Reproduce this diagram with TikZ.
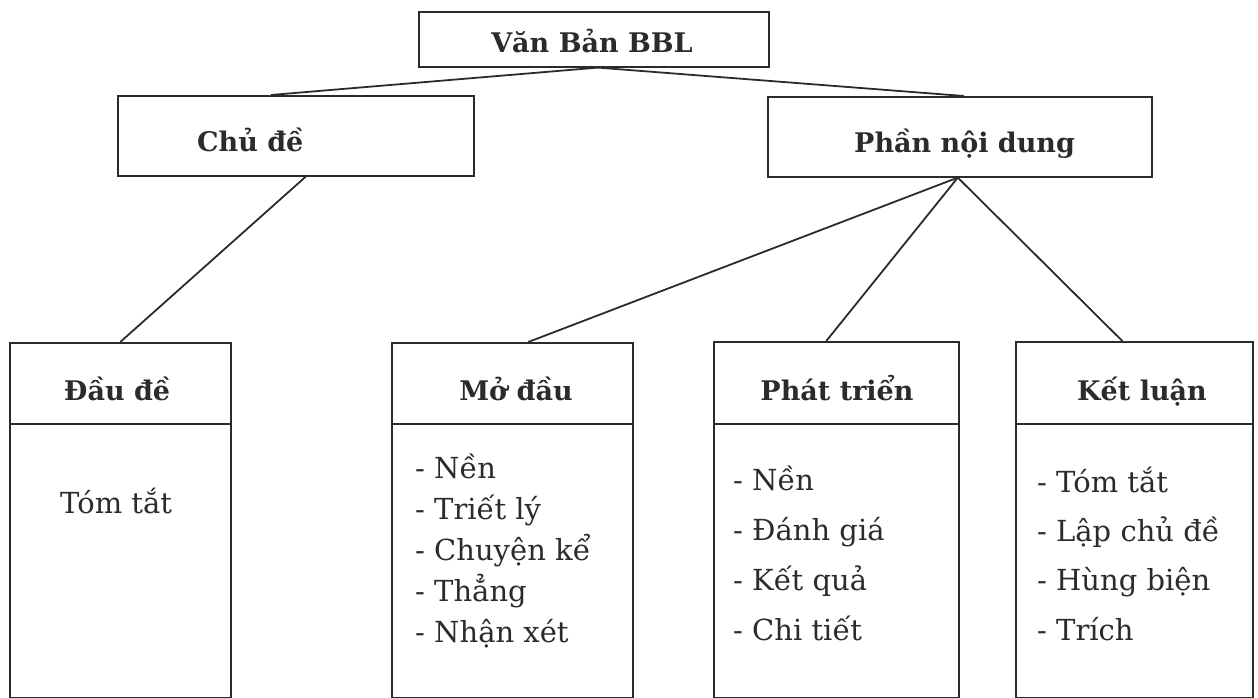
\documentclass[tikz,border=0pt]{standalone}
\usepackage{fontspec}
\setmainfont{DejaVu Serif}
\definecolor{ink}{HTML}{2B2B2B}
\begin{document}
\begin{tikzpicture}[x=1pt,y=-1pt,
  box/.style={draw=ink, line width=1.6pt, rectangle, inner sep=0pt, anchor=north west},
  conn/.style={draw=ink, line width=1.8pt},
  hdr/.style={font=\fontsize{27}{32}\selectfont\bfseries, text=ink, inner sep=0pt, anchor=base},
  hdrl/.style={hdr, anchor=base west},
  item/.style={font=\fontsize{29}{34}\selectfont, text=ink, inner sep=0pt, anchor=base west}]
\useasboundingbox (0,0) rectangle (1258,698);

% top level
\node[box, minimum width=350pt, minimum height=55pt] (top) at (418,11) {};
\node[hdr] (toptxt) at (592,53) {Văn Bản BBL};

% second level
\node[box, minimum width=356pt, minimum height=80pt] (chude) at (117,95) {};
\node[hdrl] (chudetxt) at (197,151) {Chủ đề};
\node[box, minimum width=384pt, minimum height=80pt] (pnd) at (767,96) {};
\node[hdrl] (pndtxt) at (854,153) {Phần nội dung};

% bottom boxes: headers and bodies
\node[box, minimum width=221pt, minimum height=81pt] (ddh) at (9,342) {};
\node[box, minimum width=221pt, minimum height=274pt] (ddb) at (9,423) {};
\node[box, minimum width=241pt, minimum height=81pt] (mdh) at (391,342) {};
\node[box, minimum width=241pt, minimum height=274pt] (mdb) at (391,423) {};
\node[box, minimum width=245pt, minimum height=82pt] (pth) at (713,341) {};
\node[box, minimum width=245pt, minimum height=274pt] (ptb) at (713,423) {};
\node[box, minimum width=237pt, minimum height=82pt] (klh) at (1015,341) {};
\node[box, minimum width=237pt, minimum height=274pt] (klb) at (1015,423) {};

\node[hdr] (ddt) at (117,400) {Đầu đề};
\node[hdr] (mdt) at (516,400) {Mở đầu};
\node[hdr] (ptt) at (837,400) {Phát triển};
\node[hdr] (klt) at (1142,400) {Kết luận};

% body texts
\node[item] (dd1) at (60,513) {Tóm tắt};

\node[item] (md1) at (415,478) {- Nền};
\node[item] (md2) at (415,519) {- Triết lý};
\node[item] (md3) at (415,560) {- Chuyện kể};
\node[item] (md4) at (415,601) {- Thẳng};
\node[item] (md5) at (415,642) {- Nhận xét};

\node[item] (pt1) at (733,490) {- Nền};
\node[item] (pt2) at (733,540) {- Đánh giá};
\node[item] (pt3) at (733,590) {- Kết quả};
\node[item] (pt4) at (733,640) {- Chi tiết};

\node[item] (kl1) at (1037,492) {- Tóm tắt};
\node[item] (kl2) at (1037,541) {- Lập chủ đề};
\node[item] (kl3) at (1037,590) {- Hùng biện};
\node[item] (kl4) at (1037,640) {- Trích};

% connectors
\draw[conn] ([xshift=4pt]top.south) -- ([xshift=-25pt]chude.north);
\draw[conn] ([xshift=4pt]top.south) -- ([xshift=4pt]pnd.north);
\draw[conn] ([xshift=10pt]chude.south) -- (ddh.north);
\draw[conn] ([xshift=-2pt]pnd.south) -- ([xshift=16pt]mdh.north);
\draw[conn] ([xshift=-2pt]pnd.south) -- ([xshift=-10pt]pth.north);
\draw[conn] ([xshift=-2pt]pnd.south) -- ([xshift=-12pt]klh.north);
\end{tikzpicture}
\end{document}
